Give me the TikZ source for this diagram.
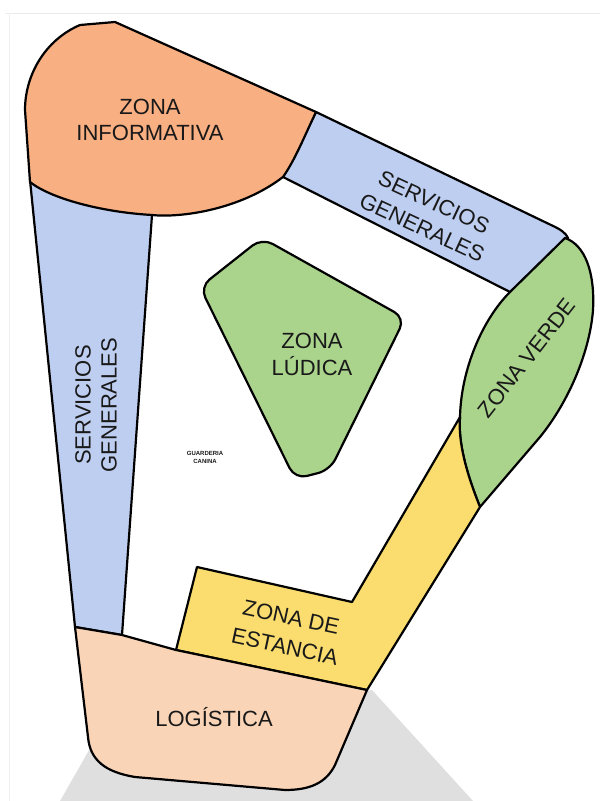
\documentclass[tikz,border=0pt]{standalone}
\usepackage{fontspec}
\newfontfamily\zonefont{Liberation Sans}
\usepackage{tikz}
\definecolor{azul}{RGB}{190,206,240}
\definecolor{naranja}{RGB}{248,175,130}
\definecolor{melocoton}{RGB}{250,212,182}
\definecolor{verde}{RGB}{170,211,140}
\definecolor{amarillo}{RGB}{250,221,110}

\begin{document}
\begin{tikzpicture}[x=0.5pt,y=-0.5pt,line join=round,
  zona/.style={draw=black,line width=1.1pt},
  zlabel/.style={font=\zonefont\fontsize{11}{13}\selectfont,align=center,text=black!90,inner sep=0pt}]
\useasboundingbox (0,0) rectangle (600,801);
\draw[gray!15] (5,13) -- (600,13);
\draw[gray!12] (9,13) -- (9,801);
\fill[gray!25] (60,801) -- (92,745) -- (372,690) -- (473,801) -- cycle;
\draw[zona,fill=azul] (30,180) -- (75,627) -- (122,635) -- (152,215) -- cycle;
\draw[zona,fill=azul] (316,112) -- (551,225) .. controls (560,229) and (566,233) .. (568,238) -- (510,292) -- (283,177) -- cycle;
\draw[zona,fill=naranja] (30,182) -- (25,110) .. controls (25,75) and (45,40) .. (80,25) -- (115,22) -- (316,112) .. controls (305,135) and (295,160) .. (283,177) .. controls (240,210) and (180,218) .. (152,215) .. controls (100,212) and (50,198) .. (30,182) -- cycle;
\draw[zona,fill=verde] (565,238) .. controls (585,245) and (595,272) .. (593,310) .. controls (590,350) and (570,400) .. (540,437) -- (480,507) .. controls (466,472) and (458,442) .. (460,417) .. controls (461,370) and (482,320) .. (510,292) -- cycle;
\draw[zona,fill=amarillo] (460,417) .. controls (458,442) and (466,472) .. (480,507) -- (367,690) -- (176,650) -- (197,567) -- (352,602) -- cycle;
\draw[zona,fill=melocoton] (75,627) -- (122,635) -- (176,650) -- (367,690) -- (335,765) .. controls (326,783) and (310,790) .. (285,790) -- (135,777) .. controls (105,772) and (90,760) .. (88,737) -- cycle;
\draw[zona,fill=verde,rounded corners=6pt] (262,238) -- (405,318) -- (330,470) -- (295,479) -- (200,287) -- cycle;
\node[zlabel] (info) at (150,120) {ZONA\\INFORMATIVA};
\node[zlabel,rotate=-25,font=\zonefont\fontsize{11}{14}\selectfont] (sgtop) at (428,215) {SERVICIOS\\GENERALES};
\node[zlabel,rotate=90] (sgleft) at (96,405) {SERVICIOS\\GENERALES};
\node[zlabel,font=\zonefont\fontsize{11}{13.5}\selectfont] (ludica) at (312,354) {ZONA\\LÚDICA};
\node[zlabel,rotate=52] (verdetxt) at (527,358) {ZONA VERDE};
\node[zlabel,font=\zonefont\fontsize{3}{4}\selectfont\bfseries] (guarderia) at (205,457) {GUARDERIA\\CANINA};
\node[zlabel,rotate=-12,font=\zonefont\fontsize{11}{15}\selectfont] (estancia) at (288,632) {ZONA DE\\ESTANCIA};
\node[zlabel] (logistica) at (214,717) {LOGÍSTICA};
\end{tikzpicture}
\end{document}
